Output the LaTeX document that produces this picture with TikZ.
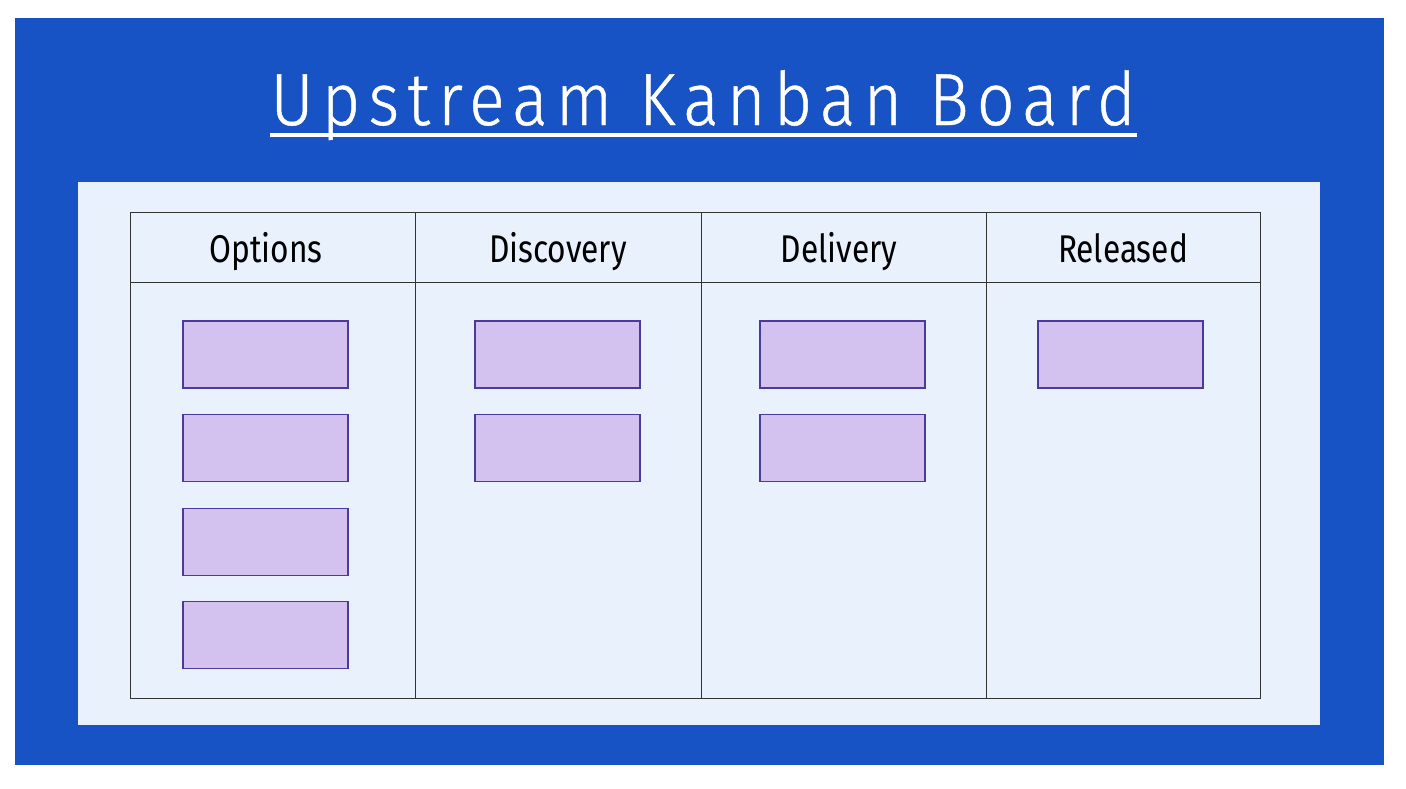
\documentclass[tikz,border=0pt]{standalone}
\usepackage{fontspec}
\setmainfont{Fira Sans}[FakeStretch=0.82]
\newfontfamily\titlefont{Fira Sans Light}[FakeStretch=0.9, LetterSpace=11, FakeBold=0.6]
\begin{document}
\begin{tikzpicture}[
  x=0.02cm, y=-0.02cm,
  card/.style={draw=CardLine, fill=CardFill, line width=1.1pt, minimum width=165*0.02cm, minimum height=67*0.02cm, inner sep=0pt},
  head/.style={font=\fontsize{22}{25}\selectfont, text=black, anchor=base},
  grid/.style={draw=black!80, line width=0.5pt},
]
\definecolor{Board}{HTML}{1753C4}
\definecolor{Panel}{HTML}{E9F1FD}
\definecolor{CardFill}{HTML}{D3C2F0}
\definecolor{CardLine}{HTML}{4A3A9C}

\useasboundingbox (0,0) rectangle (1406,788);
\fill[white] (0,0) rectangle (1406,788);

% ---- frame ----
\fill[Board] (15,18) rectangle (1384,765);
\fill[Panel] (78,182) rectangle (1320,725);

% ---- title ----
\node[font=\titlefont\fontsize{42}{46}\selectfont, text=white, anchor=base] (title) at (703,125) {Upstream Kanban Board};
\draw[white, line width=4*0.02cm] (270,135) -- (1137,135);

% ---- table ----
\draw[grid] (130,212) rectangle (1260,698);
\draw[grid] (130,282) -- (1260,282);
\foreach \x in {415,701,986} {
  \draw[grid] (\x,212) -- (\x,698);
}
\node[head] (options)   at (266,262) {Options};
\node[head] (discovery) at (558,262) {Discovery};
\node[head] (delivery)  at (839,262) {Delivery};
\node[head] (released)  at (1123,262) {Released};

% ---- cards ----
\foreach \y [count=\i] in {354.5,448,542,635} {
  \node[card] (opt\i) at (265.5,\y) {};
}
\foreach \y [count=\i] in {354.5,448} {
  \node[card] (dis\i) at (557.5,\y) {};
  \node[card] (del\i) at (842.5,\y) {};
}
\node[card] (rel1) at (1120.5,354.5) {};
\end{tikzpicture}
\end{document}
